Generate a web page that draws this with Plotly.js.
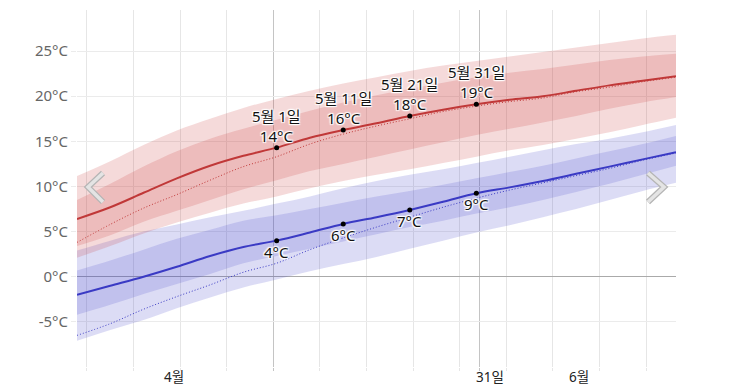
<!DOCTYPE html>
<html><head><meta charset="utf-8">
<script src="https://cdn.plot.ly/plotly-3.0.1.min.js"></script>
<style>html,body{margin:0;padding:0;background:#fff}#chart{width:753px;height:387px}</style>
</head><body><div id="chart"></div>
<script>
// Dates (noon) every 5 days, 1 April – 30 June
const dates = ['2023-04-01 12:00','2023-04-06 12:00','2023-04-11 12:00','2023-04-16 12:00','2023-04-21 12:00','2023-04-26 12:00','2023-05-01 12:00','2023-05-06 12:00','2023-05-11 12:00','2023-05-16 12:00','2023-05-21 12:00','2023-05-26 12:00','2023-05-31 12:00','2023-06-05 12:00','2023-06-10 12:00','2023-06-15 12:00','2023-06-20 12:00','2023-06-25 12:00','2023-06-30 12:00'];
// Daily high (°C)
const highMean  = [6.4, 7.7, 9.3, 10.9, 12.3, 13.4, 14.3, 15.4, 16.25, 17.0, 17.8, 18.5, 19.1, 19.6, 20.0, 20.6, 21.2, 21.7, 22.2];
const highFeels = [3.8, 5.8, 7.6, 9.1, 10.7, 12.2, 13.3, 14.7, 15.8, 16.7, 17.5, 18.3, 18.9, 19.4, 19.8, 20.5, 21.0, 21.6, 22.1];
const highP75   = [8.5, 10.3, 12.2, 13.9, 15.3, 16.4, 17.4, 18.4, 19.3, 20.1, 20.8, 21.5, 22.1, 22.6, 23.0, 23.5, 24.0, 24.4, 24.7];
const highP25   = [3.4, 4.6, 6.1, 7.3, 8.5, 9.7, 10.7, 11.7, 12.5, 13.3, 14.1, 14.9, 15.7, 16.4, 17.1, 17.8, 18.6, 19.3, 19.9];
const highP90   = [11.15, 12.8, 14.6, 16.2, 17.5, 18.7, 19.7, 20.6, 21.4, 22.1, 22.8, 23.4, 23.9, 24.4, 24.9, 25.4, 25.9, 26.4, 26.8];
const highP10   = [2.1, 3.4, 4.8, 6.0, 7.1, 8.1, 8.9, 9.8, 10.6, 11.3, 11.9, 12.6, 13.3, 14.0, 14.6, 15.3, 16.0, 16.8, 17.6];
// Daily low (°C)
const lowMean  = [-2.0, -1.0, 0.0, 1.1, 2.3, 3.3, 4.0, 4.9, 5.85, 6.6, 7.4, 8.3, 9.25, 9.9, 10.6, 11.4, 12.2, 13.0, 13.8];
const lowFeels = [-6.5, -5.2, -3.6, -2.2, -0.9, 0.5, 1.5, 3.0, 4.3, 5.5, 6.6, 7.7, 8.7, 9.6, 10.4, 11.2, 12.0, 12.9, 13.7];
const lowP75   = [0.7, 1.8, 3.0, 4.2, 5.2, 6.2, 6.8, 7.5, 8.2, 8.9, 9.5, 10.2, 10.9, 11.6, 12.3, 13.1, 13.9, 14.7, 15.6];
const lowP25   = [-4.2, -3.1, -1.9, -0.8, 0.3, 1.5, 2.3, 3.1, 3.9, 4.7, 5.5, 6.2, 7.0, 7.7, 8.5, 9.4, 10.3, 11.3, 12.3];
const lowP90   = [2.9, 4.0, 5.0, 5.8, 6.6, 7.3, 8.1, 8.9, 9.8, 10.6, 11.3, 11.9, 12.6, 13.3, 14.0, 14.7, 15.3, 16.0, 16.8];
const lowP10   = [-7.1, -5.9, -4.8, -3.5, -2.3, -1.2, -0.3, 0.6, 1.4, 2.2, 3.1, 4.0, 4.9, 5.7, 6.6, 7.5, 8.5, 9.5, 10.4];
// Labelled points
const markDates  = ['2023-05-01 12:00','2023-05-11 12:00','2023-05-21 12:00','2023-05-31 12:00'];
const markLabels = ['5월 1일','5월 11일','5월 21일','5월 31일'];
const markHigh   = [14.3, 16.25, 17.8, 19.1];
const markLow    = [4.0, 5.85, 7.4, 9.25];
// x-axis labels
const xLabelDates = ['2023-04-16 00:00','2023-06-02 12:00','2023-06-16 00:00'];
const xLabelTexts = ['4월','31일','6월'];
const monthStarts = ['2023-05-01','2023-06-01'];
const yTicks = [-5, 0, 5, 10, 15, 20, 25];

const RED = 'rgb(192,56,56)', BLUE = 'rgb(58,58,196)';
const redLight = 'rgba(200,60,60,0.19)', redDark = 'rgba(200,60,60,0.19)';
const blueLight = 'rgba(60,60,200,0.18)', blueDark = 'rgba(60,60,200,0.17)';

function band(lo, hi, color){
  return [
    {x: dates, y: lo, mode:'lines', line:{width:0, shape:'spline'}, hoverinfo:'skip', showlegend:false},
    {x: dates, y: hi, mode:'lines', line:{width:0, shape:'spline'}, fill:'tonexty', fillcolor: color, hoverinfo:'skip', showlegend:false}
  ];
}
const traces = [
  ...band(lowP10, lowP90, blueLight),
  ...band(lowP25, lowP75, blueDark),
  ...band(highP10, highP90, redLight),
  ...band(highP25, highP75, redDark),
  {x: dates, y: lowFeels, mode:'lines', line:{color:BLUE, width:1, dash:'1px,2px', shape:'spline'}, showlegend:false},
  {x: dates, y: highFeels, mode:'lines', line:{color:RED, width:1, dash:'1px,2px', shape:'spline'}, showlegend:false},
  {x: dates, y: lowMean, mode:'lines', line:{color:BLUE, width:2, shape:'spline'}, showlegend:false},
  {x: dates, y: highMean, mode:'lines', line:{color:RED, width:2, shape:'spline'}, showlegend:false},
  {x: markDates, y: markHigh, mode:'markers', marker:{color:'#000', size:5}, showlegend:false},
  {x: markDates, y: markLow, mode:'markers', marker:{color:'#000', size:5}, showlegend:false}
];

const FONT = '"Noto Sans", "Noto Sans CJK KR", sans-serif';
const halo = '1px 1px 1px #fff, -1px -1px 1px #fff, 1px -1px 1px #fff, -1px 1px 1px #fff, 0 0 3px #fff';
const annotations = [];
markDates.forEach((d,i)=>{
  annotations.push({x:d, y:markHigh[i], xref:'x', yref:'y', showarrow:false, yanchor:'bottom', yshift:0,
    text: markLabels[i] + '<br>' + Math.round(markHigh[i]) + '°C', font:{family:FONT, size:15, color:'#111', shadow:halo}});
  annotations.push({x:d, y:markLow[i], xref:'x', yref:'y', showarrow:false, yanchor:'top', yshift:1,
    text: Math.round(markLow[i]) + '°C', font:{family:FONT, size:15, color:'#111', shadow:halo}});
});
xLabelDates.forEach((d,i)=>{
  annotations.push({x:d, y:0, xref:'x', yref:'paper', yanchor:'middle', yshift:-10, showarrow:false,
    text:xLabelTexts[i], font:{family:FONT, size:13.5, color:'#222'}});
});

// navigation chevrons (paper coords)
const W = 599, H = 357, L = 77, T = 10;
const px = v => (v - L)/W, py = v => (T + H - v)/H;
function chev(pts){
  const p = 'M' + pts.map(q=>px(q[0])+','+py(q[1])).join(' L');
  return [
    {type:'path', xref:'paper', yref:'paper', path:p, line:{color:'#b5b5b5', width:6}},
    {type:'path', xref:'paper', yref:'paper', path:p, line:{color:'#e4e4e4', width:3.5}}
  ];
}
const shapes = [...chev([[103,173],[88,187],[103,202]]), ...chev([[648,173],[664,187],[648,202]])];

const yCommon = {range:[-10, 29.55], tickvals:yTicks, ticktext: yTicks.map(v=>v+'°C'), showgrid:true, gridcolor:'#ebebeb',
  zeroline:true, zerolinecolor:'#aaaaaa', zerolinewidth:1, ticks:'outside', ticklen:5, tickcolor:'#ebebeb',
  tickfont:{family:FONT, size:15, color:'#666'}, fixedrange:true};

const layout = {
  width:753, height:387, margin:{l:L, r:753-L-W, t:T, b:387-T-H},
  paper_bgcolor:'#fff', plot_bgcolor:'rgba(0,0,0,0)', showlegend:false,
  xaxis:{type:'date', range:['2023-04-01 12:00','2023-06-30 12:00'], tickvals:monthStarts, ticktext:monthStarts.map(()=>''),
    showgrid:true, gridcolor:'#c4c4c4', ticks:'outside', ticklen:3, tickcolor:'#c4c4c4', zeroline:false, showline:false,
    minor:{dtick:7*86400000, tick0:'2023-05-01', showgrid:true, gridcolor:'#e6e6e6', ticks:'outside', ticklen:3, tickcolor:'#e6e6e6'}},
  yaxis:Object.assign({}, yCommon, {side:'left'}),
  yaxis2:Object.assign({}, yCommon, {side:'right', overlaying:'y', showgrid:false, zeroline:false}),
  annotations, shapes
};
Plotly.newPlot('chart', traces, layout, {displayModeBar:false, staticPlot:true});
</script></body></html>
